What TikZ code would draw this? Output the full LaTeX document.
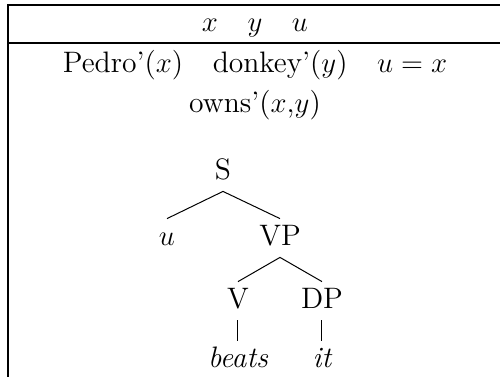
\documentclass[tikz,border=0pt]{standalone}
\usetikzlibrary{positioning}

\tikzset{
  cat/.style={inner sep=3pt, text height=10pt, text depth=3pt, anchor=base, font=\fontsize{14.8pt}{18pt}\selectfont},
  cond/.style={anchor=base, inner sep=0pt, font=\fontsize{14.8pt}{18pt}\selectfont},
  branch/.style={line width=0.5pt},
}

\begin{document}
\begin{tikzpicture}[x=0.5pt, y=-0.5pt]
\useasboundingbox (0,0) rectangle (500,377);
% box of the DRS
\draw[line width=0.6pt] (500,5) -- (8,5) -- (8,377);
\draw[line width=0.6pt] (8,43) -- (500,43);
% universe and conditions
\node[cond] (univ) at (255,31) {$x \quad y \quad u$};
\node[cond] (conds) at (255,72) {Pedro'($x$)\quad donkey'($y$)\quad $u=x$};
\node[cond] (owns) at (255,112) {owns'($x$,$y$)};
% the tree
\node[cat] (S) at (223,179) {S};
\node[cat] (u) at (167,245) {$u$};
\node[cat] (VP) at (280,245) {VP};
\node[cat] (V) at (238,308) {V};
\node[cat] (DP) at (322,308) {DP};
\node[cat] (beats) at (238,367) {\itshape beats};
\node[cat] (it) at (322,367) {\itshape it};
\draw[branch] (S.south) -- (u.north);
\draw[branch] (S.south) -- (VP.north);
\draw[branch] (VP.south) -- (V.north);
\draw[branch] (VP.south) -- (DP.north);
\draw[branch] (V.south) -- (beats.north);
\draw[branch] (DP.south) -- (it.north);
\end{tikzpicture}
\end{document}
